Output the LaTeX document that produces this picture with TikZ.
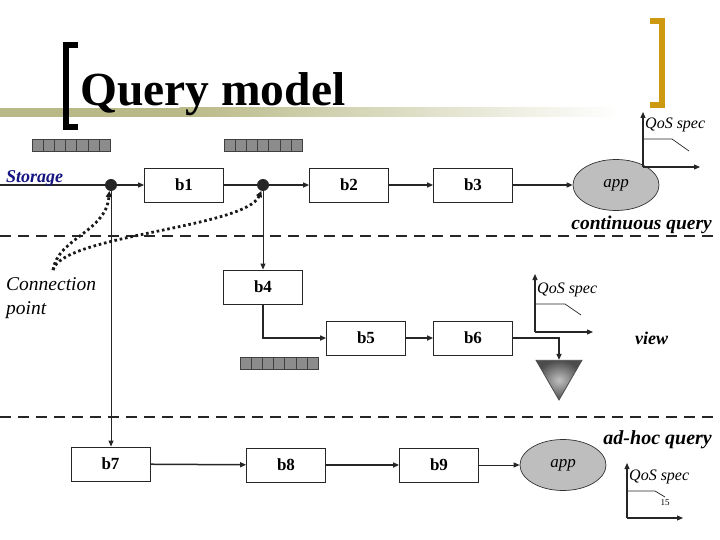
\documentclass[tikz,border=0pt]{standalone}
\usepackage{fontspec}
\setmainfont{Liberation Serif}
\usetikzlibrary{arrows.meta,shapes.geometric,calc}
\definecolor{barolive}{RGB}{185,185,135}
\definecolor{bracketgold}{RGB}{204,153,17}
\definecolor{appgray}{RGB}{190,190,190}
\definecolor{qgray}{RGB}{140,140,140}
\definecolor{storblue}{RGB}{20,20,130}
\begin{document}
\begin{tikzpicture}[x=1pt,y=-1pt,
 box/.style={draw=black!85, line width=0.8pt, minimum width=79pt, minimum height=34pt, inner sep=0, fill=white, font=\fontsize{17}{19}\selectfont\bfseries},
 flow/.style={line width=1.5pt, draw=black!85},
 arr/.style={flow, -{Triangle[length=6pt,width=5pt]}},
 thinline/.style={line width=0.9pt, draw=black!85},
 tarr/.style={thinline, -{Triangle[length=6pt,width=5pt]}},
 cdot/.style={circle, fill=black!85, minimum size=12pt, inner sep=0},
 appnode/.style={ellipse, draw=black!80, line width=0.7pt, fill=appgray, minimum width=86pt, minimum height=51pt, inner sep=0, font=\fontsize{17}{19}\selectfont\itshape},
 sepline/.style={line width=1.8pt, draw=black!85, dash pattern=on 11pt off 7pt},
 dotcurve/.style={line width=2.8pt, draw=black!90, dash pattern=on 2.6pt off 2.8pt, -{Triangle[length=6pt,width=6pt]}},
 qos/.style={font=\fontsize{16}{18}\selectfont\itshape, inner sep=0, anchor=west},
 axis/.style={line width=1.1pt, draw=black!85, -{Triangle[length=6pt,width=5pt]}},
 curveline/.style={line width=0.7pt, draw=black!85},
 lab/.style={font=\fontsize{18}{20}\selectfont\bfseries\itshape, inner sep=0},
 queue/.pic={\foreach \i in {0,...,6}{\draw[draw=black!75, line width=0.7pt, fill=qgray] (\i*11.2,0) rectangle ++(11.2,12.5);}}
]
\useasboundingbox (0,0) rectangle (720,540);
\fill[white] (0,0) rectangle (720,540);

% title bar and brackets
\fill[barolive] (0,108) rectangle (180,117);
\shade[left color=barolive, right color=white] (179.5,108) rectangle (620,117);
\draw[line width=6pt, line join=miter] (78,45) -- (66,45) -- (66,127) -- (78,127);
\draw[line width=6pt, line join=miter, draw=bracketgold] (650,21) -- (662,21) -- (662,105) -- (650,105);
\node[font=\fontsize{47.5}{52}\selectfont\bfseries, anchor=base west, inner sep=0] (title) at (80,106) {Query model};

% queues
\pic at (32,139) {queue};
\pic at (224,139) {queue};
\pic at (240,357) {queue};

% separator lines
\coordinate (d1l) at (0,236); \coordinate (d1r) at (720,236);
\coordinate (d2l) at (0,417); \coordinate (d2r) at (720,417);
\draw[sepline] (d1l) -- (d1r);
\draw[sepline] (d2l) -- (d2r);

% nodes
\node[box] (b1) at (184,185) {b1};
\node[box] (b2) at (349,185) {b2};
\node[box] (b3) at (473,185) {b3};
\node[appnode] (app1) at (616,185) {app};
\node[box] (b4) at (263,287) {b4};
\node[box] (b5) at (366,338) {b5};
\node[box] (b6) at (473,338) {b6};
\node[box] (b7) at (110.5,464) {b7};
\node[box] (b8) at (286,465) {b8};
\node[box] (b9) at (439,465) {b9};
\node[appnode] (app2) at (563,465) {app};
\node[cdot] (c1) at (111,185) {};
\node[cdot] (c2) at (263,185) {};
\node[regular polygon, regular polygon sides=3, shape border rotate=180, minimum size=53pt, inner sep=0, draw=black!70, line width=0.8pt, outer color=black!70, inner color=black!25] (tri) at (559,373.5) {};

% connectors
\coordinate (s0) at (0,185);
\draw[flow] (s0) -- (c1);
\draw[arr] (c1) -- (b1);
\draw[flow] (b1) -- (c2);
\draw[arr] (c2) -- (b2);
\draw[arr] (b2) -- (b3);
\draw[arr] (b3) -- (app1);
\draw[tarr] (c1) -- (c1 |- b7.north);
\draw[tarr] (c2) -- (b4);
\draw[arr] (b4.south) |- (b5.west);
\draw[arr] (b5) -- (b6);
\draw[arr] (b6.east) -| (tri.north);
\draw[arr] (b7) -- (b8);
\draw[arr] (b8) -- (b9);
\draw[tarr] (b9) -- (app2);

% connection point curves
\coordinate (cp) at (53,270);
\draw[dotcurve] (cp) .. controls (58,238) and (106,232) .. (c1.255);
\draw[dotcurve] (cp) .. controls (62,235) and (245,228) .. (c2.255);

% labels
\node[lab, text=storblue, anchor=west] (stor) at (6,178) {Storage};
\node[lab, anchor=east, font=\fontsize{19.5}{22}\selectfont\bfseries\itshape] (cq) at (712,225) {continuous query};
\node[lab, anchor=west] (vw) at (635,338) {view};
\node[lab, anchor=east, font=\fontsize{20}{22}\selectfont\bfseries\itshape] (ahq) at (712,440) {ad-hoc query};
\node[font=\fontsize{19.5}{24}\selectfont\itshape, align=left, anchor=north west, inner sep=0] (cpl) at (6,277) {Connection\\point};

% QoS charts
\coordinate (o1) at (643,167);
\draw[axis] (o1) -- ++(0,-55);
\draw[axis] (o1) -- ++(57,0);
\draw[curveline] ($(o1)+(0,-28)$) -- ++(29,0) -- ++(17,12);
\node[qos] (qos1) at ($(o1)+(2,-42)$) {QoS spec};

\coordinate (o2) at (535,332);
\draw[axis] (o2) -- ++(0,-58);
\draw[axis] (o2) -- ++(58,0);
\draw[curveline] ($(o2)+(0,-28)$) -- ++(30,0) -- ++(16,11);
\node[qos] (qos2) at ($(o2)+(2,-42)$) {QoS spec};

\coordinate (o3) at (627,518);
\draw[axis] (o3) -- ++(0,-55);
\draw[axis] (o3) -- ++(56,0);
\draw[curveline] ($(o3)+(0,-27)$) -- ++(28,0) -- ++(10,6);
\node[qos] (qos3) at ($(o3)+(2,-41)$) {QoS spec};
\node[font=\fontsize{9}{10}\selectfont, inner sep=0] (pnum) at (665,503) {15};
\end{tikzpicture}
\end{document}
